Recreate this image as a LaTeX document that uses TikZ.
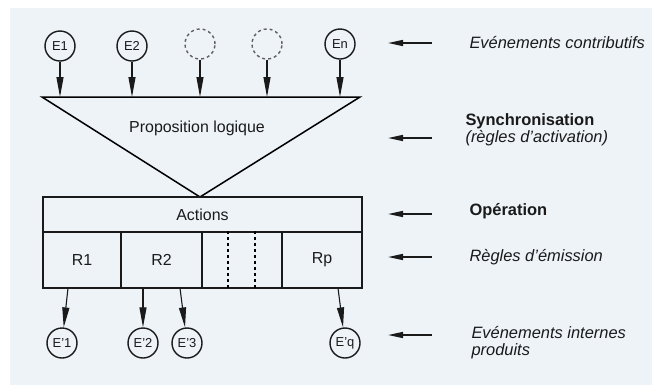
\documentclass[tikz,border=0pt]{standalone}
\usepackage{fontspec}
\setmainfont{Liberation Sans}
\usetikzlibrary{arrows.meta, positioning}
\definecolor{paperblue}{HTML}{EEF3F8}
\definecolor{inkblack}{HTML}{1A1A1A}

\begin{document}
\begin{tikzpicture}[
    x=1bp, y=-1bp,
    every node/.style={font=\fontsize{16}{18}\selectfont, text=inkblack},
    event/.style={draw=inkblack, circle, minimum size=30bp, inner sep=0pt, line width=1.4bp, font=\fontsize{13}{15}\selectfont},
    ghost/.style={draw=inkblack!70, dashed, circle, minimum size=30bp, line width=1.4bp},
    cell/.style={draw=inkblack, line width=1.5bp, minimum height=56bp, inner sep=0pt},
    inarrow/.style={draw=inkblack, line width=1.1bp, -{Triangle[length=20bp,width=7bp]}},
    sidearrow/.style={draw=inkblack, line width=1.5bp, -{Triangle[length=15bp,width=6bp]}},
    lab/.style={anchor=west, align=left, font=\fontsize{16.5}{17}\selectfont},
    itlab/.style={lab, font=\fontsize{16.5}{17}\selectfont\itshape}
]
    % Paper
    \useasboundingbox (0,0) rectangle (652,385);
    \fill[paperblue] (10,8) rectangle (652,385);

    % Contributing events
    \node[event] (e1) at (60,46) {E1};
    \node[event] (e2) at (132,46) {E2};
    \node[ghost] (g1) at (200,44) {};
    \node[ghost] (g2) at (267,44) {};
    \node[event] (en) at (340,44) {En};

    % Synchronisation triangle
    \coordinate (tl) at (42,97);
    \coordinate (tr) at (360,97);
    \coordinate (apex) at (200,197);
    \draw[line width=1.5bp] (tl) -- (tr) -- (apex) -- cycle;
    \node (prop) at (197,128) {Proposition logique};
    \foreach \ev in {e1,e2,g1,g2,en}
        \draw[inarrow] (\ev) -- (\ev |- tl);

    % Operation and emission rules
    \node[cell, minimum width=319bp, minimum height=35bp] (actions) at (202.5,214.5) {Actions};
    \node[cell, minimum width=78bp] (r1) at (82,260) {R1};
    \node[cell, minimum width=81bp] (r2) at (161.5,260) {R2};
    \node[cell, minimum width=80bp] (rdots) at (242,260) {};
    \node[cell, minimum width=80bp] (rp) at (322,260) {Rp};
    \draw[dashed, line width=1.1bp] ([xshift=-14bp]rdots.north) -- ([xshift=-14bp]rdots.south);
    \draw[dashed, line width=1.1bp] ([xshift=13bp]rdots.north) -- ([xshift=13bp]rdots.south);

    % Produced internal events
    \node[event] (f1) at (62,343) {E'1};
    \node[event] (f2) at (143,343) {E'2};
    \node[event] (f3) at (187,343) {E'3};
    \node[event] (fq) at (345,343) {E'q};
    \coordinate (o1) at (68,288);
    \coordinate (o2) at (143,288);
    \coordinate (o3) at (180,288);
    \coordinate (oq) at (338,288);
    \draw[inarrow] (o1) -- (f1);
    \draw[inarrow] (o2) -- (f2);
    \draw[inarrow] (o3) -- (f3);
    \draw[inarrow] (oq) -- (fq);

    % Side labels
    \node[itlab] (contrib) at (466,43) {Evénements contributifs};
    \node[lab] (synchro) at (462,130) {\textbf{Synchronisation}\\\textit{(règles d'activation)}};
    \node[lab] (oper) at (466,211) {\bfseries Opération};
    \node[itlab] (emis) at (466,257) {Règles d'émission};
    \node[itlab] (internes) at (468,343) {Evénements internes\\produits};
    \draw[sidearrow] ([xshift=-34bp]contrib.west) -- ++(-44,0);
    \draw[sidearrow] ([shift={(-30,8)}]synchro.west) -- ++(-44,0);
    \draw[sidearrow] ([shift={(-34,3)}]oper.west) -- ++(-44,0);
    \draw[sidearrow] ([xshift=-34bp]emis.west) -- ++(-44,0);
    \draw[sidearrow] ([shift={(-36,-8)}]internes.west) -- ++(-44,0);
\end{tikzpicture}
\end{document}
